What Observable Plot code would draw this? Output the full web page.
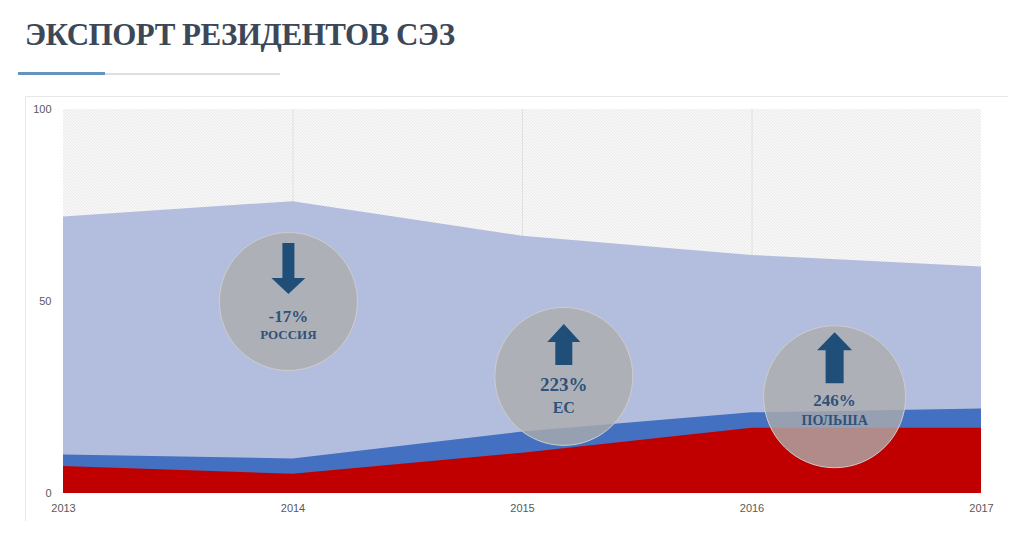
<!DOCTYPE html>
<html>
<head>
<meta charset="utf-8">
<script src="https://cdn.jsdelivr.net/npm/d3@7"></script>
<script src="https://cdn.jsdelivr.net/npm/@observablehq/plot@0.6"></script>
<style>
  body { margin: 0; background: #fff; width: 1024px; height: 541px; overflow: hidden; position: relative; }
  #title { position: absolute; left: 25px; top: 17px; margin: 0; font-family: "Liberation Serif", serif; font-weight: bold; font-size: 31px; letter-spacing: -0.5px; color: #3c4858; white-space: nowrap; }
  #rule { position: absolute; left: 18px; top: 73px; width: 262px; height: 2px; background: #dedede; }
  #rule-accent { position: absolute; left: 18px; top: 72px; width: 87px; height: 3px; background: #6593bd; }
  #frame { position: absolute; left: 25px; top: 96px; width: 982px; height: 424px; border-left: 1px solid #e8e8e8; border-top: 1px solid #e8e8e8; }
  #chart { position: absolute; left: 0; top: 96px; }
</style>
</head>
<body>
<h1 id="title">ЭКСПОРТ РЕЗИДЕНТОВ СЭЗ</h1>
<div id="rule"></div>
<div id="rule-accent"></div>
<div id="frame"></div>
<div id="chart"></div>
<script>
// ---- data ----
const years = [2013, 2014, 2015, 2016, 2017];
const totalExport = [72, 76, 67, 62, 59];
const euExport = [10, 9, 16, 21, 22];
const polandExport = [7, 5, 10.5, 17, 17];
const yTicks = [0, 50, 100];
const gridYears = [2014, 2015, 2016];

const calloutNames = ["РОССИЯ", "ЕС", "ПОЛЬША"];
const calloutChanges = ["-17%", "223%", "246%"];
const calloutDirections = ["down", "up", "up"];
const calloutYear = [2013.98, 2015.18, 2016.36];
const calloutLevel = [50, 30.5, 25.2];

// ---- styles ----
const calloutStyles = [
  {r: 69, arrowDy: -33, len: 51, headW: 34, shaftW: 12, headL: 16, t1Dy: 15, t1Size: 17, t2Dy: 33, t2Size: 13},
  {r: 69, arrowDy: -32, len: 41, headW: 33, shaftW: 17, headL: 18, t1Dy: 9,  t1Size: 19, t2Dy: 31, t2Size: 16},
  {r: 71, arrowDy: -39, len: 51, headW: 35, shaftW: 18, headL: 18, t1Dy: 4,  t1Size: 17, t2Dy: 24, t2Size: 14}
];

function makeArrow(len, headW, shaftW, headL, dir) {
  const s = dir === "down" ? -1 : 1;
  const L = len / 2, hw = headW / 2, sw = shaftW / 2;
  return {
    draw(ctx) {
      ctx.moveTo(0, -L * s);
      ctx.lineTo(hw, (-L + headL) * s);
      ctx.lineTo(sw, (-L + headL) * s);
      ctx.lineTo(sw, L * s);
      ctx.lineTo(-sw, L * s);
      ctx.lineTo(-sw, (-L + headL) * s);
      ctx.lineTo(-hw, (-L + headL) * s);
      ctx.closePath();
    }
  };
}

const table = years.map((y, i) => ({year: y, total: totalExport[i], eu: euExport[i], poland: polandExport[i]}));
const callouts = calloutNames.map((n, i) => ({name: n, change: calloutChanges[i], dir: calloutDirections[i], x: calloutYear[i], y: calloutLevel[i]}));

const calloutMarks = callouts.flatMap((c, i) => {
  const st = calloutStyles[i];
  return [
    Plot.dot([c], {x: "x", y: "y", r: st.r, fill: "#adadad", fillOpacity: 0.8, stroke: "#cdcdcd", strokeWidth: 1}),
    Plot.dot([c], {x: "x", y: "y", dy: st.arrowDy, r: 10, symbol: makeArrow(st.len, st.headW, st.shaftW, st.headL, c.dir), fill: "#1f4e79", stroke: "none"}),
    Plot.text([c], {x: "x", y: "y", dy: st.t1Dy, text: "change", fill: "#30527a", fontSize: st.t1Size, fontWeight: "bold", fontFamily: "Liberation Serif"}),
    Plot.text([c], {x: "x", y: "y", dy: st.t2Dy, text: "name", fill: "#30527a", fontSize: st.t2Size, fontWeight: "bold", fontFamily: "Liberation Serif"})
  ];
});

const svg = Plot.plot({
  width: 1024,
  height: 445,
  marginTop: 13,
  marginBottom: 48,
  marginLeft: 63,
  marginRight: 43,
  style: {fontFamily: "Liberation Sans", fontSize: "11px", color: "#595959", background: "transparent"},
  x: {domain: [d3.min(years), d3.max(years)], axis: null},
  y: {domain: [0, d3.max(yTicks)], axis: null},
  marks: [
    Plot.rect([0], {x1: d3.min(years), x2: d3.max(years), y1: 0, y2: d3.max(yTicks), fill: "url(#hatch)"}),
    Plot.ruleX(gridYears, {y1: 0, y2: d3.max(yTicks), stroke: "#e0e0e0", strokeWidth: 1}),
    Plot.areaY(table, {x: "year", y: "total", fill: "#b3bedf", curve: "linear"}),
    Plot.areaY(table, {x: "year", y: "eu", fill: "#4470c2", curve: "linear"}),
    Plot.areaY(table, {x: "year", y: "poland", fill: "#c00000", curve: "linear"}),
    Plot.axisX(years, {tickSize: 0, tickPadding: 11, tickFormat: "d", label: null, fill: "#595959"}),
    Plot.axisY(yTicks, {tickSize: 0, tickPadding: 12, label: null, fill: "#595959"}),
    ...calloutMarks
  ]
});

const defs = d3.select(svg).insert("defs", ":first-child");
const pat = defs.append("pattern").attr("id", "hatch").attr("patternUnits", "userSpaceOnUse").attr("width", 3).attr("height", 3);
pat.append("rect").attr("width", 3).attr("height", 3).attr("fill", "#f7f7f7");
pat.append("path").attr("d", "M-1,-1L4,4M2,-1L4,1M-1,2L1,4").attr("stroke", "#e4e4e4").attr("stroke-width", 0.7);

document.getElementById("chart").appendChild(svg);
</script>
</body>
</html>
